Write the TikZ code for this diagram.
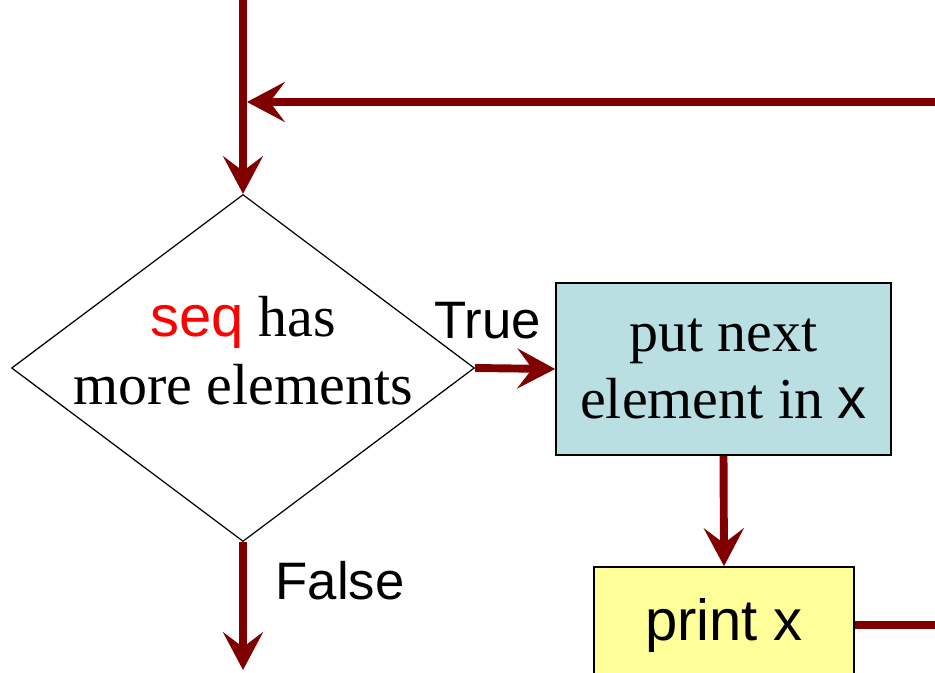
\documentclass[tikz,border=0pt]{standalone}
\usepackage{fontspec}
\setmainfont{Liberation Serif}
\setsansfont{Liberation Sans}
\usetikzlibrary{arrows.meta,positioning}
\usetikzlibrary{shapes.geometric}
\usepackage{xcolor}
\definecolor{flowred}{HTML}{800000}
\definecolor{stepblue}{HTML}{B9DFE3}
\definecolor{stepyellow}{HTML}{FFFF99}

\tikzset{
    flow/.style={draw=flowred, line width=4.5pt,
        -{Stealth[length=21.5pt,width=22.7pt,inset=8.5pt]}},
    wire/.style={draw=flowred, line width=4.5pt},
    test/.style={diamond, draw, line width=0.7pt, inner sep=0pt,
        minimum width=9.26cm, minimum height=6.94cm},
    stepbox/.style={rectangle, draw, line width=1pt, align=center,
        font=\fontsize{33}{38.5}\selectfont},
    label/.style={font=\sffamily\fontsize{30}{34}\selectfont}
}

\begin{document}
\begin{tikzpicture}[x=0.02cm,y=-0.02cm]
    \useasboundingbox (0,0) rectangle (935,672);
    \node[test] (cond) at (243,368) {};
    \node[align=center, font=\fontsize{33}{38.5}\selectfont, yshift=10pt]
        (condtext) at (cond) {{\sffamily\color{red}seq} has\\more elements};
    \node[stepbox, fill=stepblue, minimum width=6.7cm, minimum height=3.44cm]
        (put) at (723.5,369) {put next\\element in {\sffamily x}};
    \node[stepbox, fill=stepyellow, minimum width=5.2cm, minimum height=2.32cm,
        font=\sffamily\fontsize{33}{38}\selectfont]
        (print) at (724,625) {print x};
    \coordinate (top)  at (243,0);
    \coordinate (back) at (935,102);
    \coordinate (join) at (247,102);
    \coordinate (exit) at (935,625);
    \coordinate (done) at (243,670);
    \draw[flow] (top) -- (cond.north);
    \draw[flow] (back) -- (join);
    \draw[flow] (cond.east) -- node[label, above=11pt, pos=0.16] {True} (put.west);
    \draw[flow] (put.south) -- (print.north);
    \draw[wire] (print.east) -- (exit);
    \draw[flow] (cond.south) -- node[label, right=13pt, pos=0.3] {False} (done);
\end{tikzpicture}
\end{document}
